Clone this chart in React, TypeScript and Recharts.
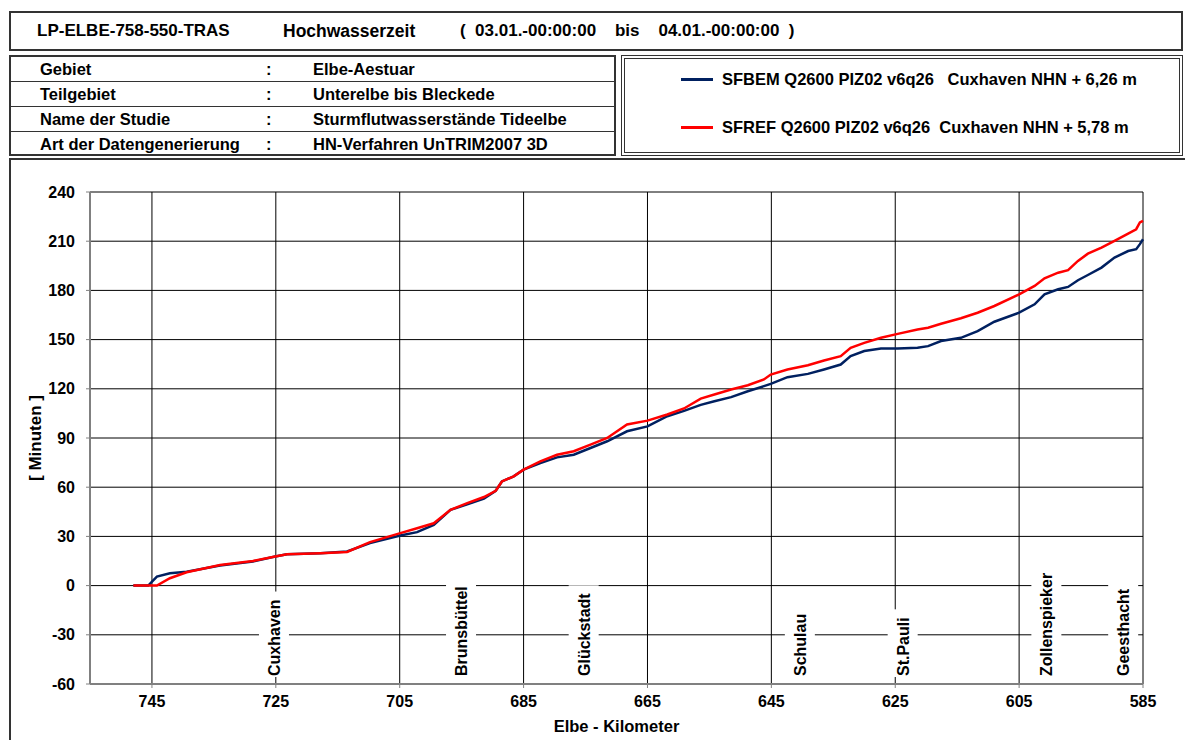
import React from 'react'
import { LineChart, Line, XAxis, YAxis, CartesianGrid, ReferenceDot } from 'recharts'

const FONT = '"Liberation Sans", Arial, Helvetica, sans-serif'
const BLUE = '#002060'
const RED = '#ff0000'
const AXIS_GRAY = '#808080'

// Elbe-Kilometer of each sample along the river
const kilometer = [
  748, 745.6, 744.2, 742.1, 739.4, 734, 728.7, 725.1, 723.2, 717.8, 713.5, 709.8, 704.9, 702.2, 699.5, 696.8,
  694.1, 691.4, 689.5, 688.5, 686.6, 685, 682.3, 679.6, 676.9, 674.2, 671.5, 668.3, 665, 661.8, 659.1, 656.4,
  654.2, 651.5, 648.8, 646.2, 645.1, 642.4, 639.1, 636.5, 633.8, 632.2, 630, 627.3, 624.6, 621.4, 619.7, 617.6,
  614.4, 611.7, 609, 605, 602.5, 600.9, 598.7, 597.1, 595.5, 593.9, 591.7, 589.6, 587.4, 586.1, 585.5, 585,
]

// SFBEM Q2600 PIZ02 v6q26 – high water time in minutes
const minutenBem = [
  0, 0, 5.5, 7.5, 8.5, 12.2, 14.7, 17.7, 19.1, 19.7, 20.8, 25.9, 30.5, 32.6, 37, 46.2,
  49.5, 53, 57.8, 63.5, 66.6, 70.7, 74.7, 78.2, 79.8, 83.9, 88, 94.1, 97.1, 103.3, 106.5, 110.2,
  112.4, 114.9, 118.5, 121.6, 123, 127.1, 129.1, 131.8, 134.8, 139.9, 143, 144.6, 144.6, 145, 146, 149.1,
  151.1, 155.2, 160.9, 166.4, 171.5, 177.6, 180.7, 182.1, 186.2, 189.4, 193.9, 200, 204, 205.1, 208.2, 211.2,
]

// SFREF Q2600 PIZ02 v6q26 – high water time in minutes
const minutenRef = [
  0, 0, 0, 4.5, 8.1, 12.5, 15, 17.7, 19.1, 19.7, 20.5, 26.5, 32, 35, 38, 46.2,
  50.3, 54, 57.8, 63.5, 66.6, 70.7, 75.8, 79.8, 81.9, 86, 90, 98.2, 100.6, 104.3, 108, 114,
  116.5, 119.6, 122.2, 125.7, 128.7, 131.8, 134.4, 137.3, 139.9, 145, 148, 151.1, 153.5, 156.2, 157.2, 159.7,
  163, 166.4, 170.5, 177.6, 182.7, 187.4, 190.8, 192.3, 198, 202.4, 206.1, 210.2, 214.6, 217.3, 221.4, 222.4,
]

const xTicks = [745, 725, 705, 685, 665, 645, 625, 605, 585]
const xMinorTicks = [
  750, 745, 740, 735, 730, 725, 720, 715, 710, 705, 700, 695, 690, 685, 680, 675, 670, 665, 660, 655, 650,
  645, 640, 635, 630, 625, 620, 615, 610, 605, 600, 595, 590, 585,
]
const yTicks = [-60, -30, 0, 30, 60, 90, 120, 150, 180, 210, 240]
const yMinorTicks = [
  -60, -50, -40, -30, -20, -10, 0, 10, 20, 30, 40, 50, 60, 70, 80, 90, 100, 110, 120, 130, 140, 150, 160, 170,
  180, 190, 200, 210, 220, 230, 240,
]

const orte = ['Cuxhaven', 'Brunsbüttel', 'Glückstadt', 'Schulau', 'St.Pauli', 'Zollenspieker', 'Geesthacht']
const orteKm = [725.3, 695.1, 675.3, 640.4, 623.8, 600.6, 588.2]

const infoLabels = ['Gebiet', 'Teilgebiet', 'Name der Studie', 'Art der Datengenerierung']
const infoValues = ['Elbe-Aestuar', 'Unterelbe bis Bleckede', 'Sturmflutwasserstände Tideelbe', 'HN-Verfahren UnTRIM2007 3D']

const legendNames = [
  'SFBEM Q2600 PIZ02 v6q26   Cuxhaven NHN + 6,26 m',
  'SFREF Q2600 PIZ02 v6q26  Cuxhaven NHN + 5,78 m',
]

const data = kilometer.map((km, i) => ({ km, bem: minutenBem[i], ref: minutenRef[i] }))

let measureCtx: CanvasRenderingContext2D | null = null
function textWidth(s: string, size: number) {
  if (!measureCtx) measureCtx = document.createElement('canvas').getContext('2d')
  if (!measureCtx) return s.length * size * 0.6
  measureCtx.font = `bold ${size}px ${FONT}`
  return measureCtx.measureText(s).width
}

// vertical place name on a white box, standing on the x axis
function OrtLabel({ cx, cy, name }: { cx: number; cy: number; name: string }) {
  const len = textWidth(name, 16)
  const bottom = cy - 8
  return (
    <g>
      <rect x={cx - 15} y={bottom - len - 8} width={30} height={len + 9} fill="#fff" />
      <text
        transform={`translate(${cx + 6},${bottom}) rotate(-90)`}
        fontSize={16}
        fontWeight="bold"
        fontFamily={FONT}
        fill="#000"
      >
        {name}
      </text>
    </g>
  )
}

function Txt({ left, cy, children, size = 16 }: { left: number; cy: number; children: React.ReactNode; size?: number }) {
  return (
    <div
      style={{
        position: 'absolute',
        left,
        top: cy - 10,
        height: 20,
        lineHeight: '20px',
        fontSize: size,
        whiteSpace: 'pre',
      }}
    >
      {children}
    </div>
  )
}

const tickStyle = { fontSize: 16, fontWeight: 'bold', fill: '#000', fontFamily: FONT }

export default function App() {
  const rowTop = 56
  const rowH = 25
  return (
    <div
      style={{
        position: 'absolute',
        left: 0,
        top: 0,
        width: 1185,
        height: 740,
        background: '#fff',
        fontFamily: FONT,
        fontWeight: 'bold',
        color: '#000',
        overflow: 'hidden',
      }}
    >
      {/* title bar */}
      <div style={{ position: 'absolute', left: 9, top: 11, width: 1174, height: 40, boxSizing: 'border-box', border: '2px solid #333' }} />
      <Txt left={37} cy={31} size={17}>LP-ELBE-758-550-TRAS</Txt>
      <Txt left={283} cy={31} size={17.5}>Hochwasserzeit</Txt>
      <Txt left={460} cy={31} size={17}>{'(  03.01.-00:00:00    bis    04.01.-00:00:00  )'}</Txt>

      {/* study info table */}
      <div style={{ position: 'absolute', left: 9, top: 55, width: 607, height: 101, boxSizing: 'border-box', border: '2px solid #333' }} />
      {infoLabels.map((lbl, i) => (
        <React.Fragment key={lbl}>
          {i > 0 && (
            <div style={{ position: 'absolute', left: 9, top: rowTop + i * rowH, width: 607, height: 0, borderTop: '1px solid #333' }} />
          )}
          <Txt left={40} cy={rowTop + i * rowH + 12.5} size={16.5}>{lbl}</Txt>
          <Txt left={266} cy={rowTop + i * rowH + 12.5} size={16.5}>:</Txt>
          <Txt left={313} cy={rowTop + i * rowH + 12.5} size={16.5}>{infoValues[i]}</Txt>
        </React.Fragment>
      ))}

      {/* legend */}
      <div style={{ position: 'absolute', left: 621, top: 55, width: 562, height: 101, boxSizing: 'border-box', border: '4px double #333' }} />
      {legendNames.map((name, i) => (
        <React.Fragment key={name}>
          <div style={{ position: 'absolute', left: 681, top: (i === 0 ? 79 : 127) - 1.5, width: 32, height: 3, background: i === 0 ? BLUE : RED }} />
          <Txt left={722} cy={i === 0 ? 79 : 127} size={16.5}>{name}</Txt>
        </React.Fragment>
      ))}

      {/* chart frame */}
      <div style={{ position: 'absolute', left: 9, top: 158, width: 1180, height: 590, boxSizing: 'border-box', borderLeft: '2px solid #333', borderTop: '2px solid #333' }} />

      <div style={{ position: 'absolute', left: 9, top: 158 }}>
        <LineChart width={1176} height={582} data={data} margin={{ top: 34, right: 42, bottom: 0, left: 0 }}>
          <CartesianGrid stroke="#000" strokeWidth={1} />
          <XAxis
            xAxisId="minor"
            type="number"
            dataKey="km"
            domain={[585, 755]}
            reversed
            ticks={xMinorTicks}
            interval={0}
            mirror
            height={0}
            tick={false}
            tickSize={5}
            axisLine={false}
            tickLine={{ stroke: AXIS_GRAY, strokeWidth: 1 }}
          />
          <YAxis
            yAxisId="minor"
            type="number"
            domain={[-60, 240]}
            ticks={yMinorTicks}
            interval={0}
            mirror
            width={0}
            tick={false}
            tickSize={4}
            axisLine={false}
            tickLine={{ stroke: AXIS_GRAY, strokeWidth: 1 }}
          />
          <XAxis
            type="number"
            dataKey="km"
            domain={[585, 755]}
            reversed
            ticks={xTicks}
            interval={0}
            height={56}
            tickSize={4}
            tickMargin={8}
            axisLine={{ stroke: AXIS_GRAY, strokeWidth: 2 }}
            tickLine={{ stroke: AXIS_GRAY, strokeWidth: 1 }}
            tick={tickStyle}
            label={{
              value: 'Elbe - Kilometer',
              position: 'insideBottom',
              offset: 8,
              style: { fontSize: 16.5, fontWeight: 'bold', fill: '#000', fontFamily: FONT },
            }}
          />
          <YAxis
            type="number"
            domain={[-60, 240]}
            ticks={yTicks}
            interval={0}
            width={81}
            tickSize={4}
            tickMargin={11}
            axisLine={{ stroke: AXIS_GRAY, strokeWidth: 2 }}
            tickLine={{ stroke: AXIS_GRAY, strokeWidth: 1 }}
            tick={tickStyle}
            label={{
              value: '[ Minuten ]',
              angle: -90,
              position: 'insideLeft',
              offset: 26,
              style: { textAnchor: 'middle', fontSize: 17, fontWeight: 'bold', fill: '#000', fontFamily: FONT },
            }}
          />
          {orte.map((name, i) => (
            <ReferenceDot
              key={name}
              x={orteKm[i]}
              y={-60}
              r={0}
              ifOverflow="visible"
              shape={(p: any) => <OrtLabel cx={p.cx} cy={p.cy} name={name} />}
            />
          ))}
          <Line type="linear" dataKey="bem" stroke={BLUE} strokeWidth={2.5} dot={false} isAnimationActive={false} />
          <Line type="linear" dataKey="ref" stroke={RED} strokeWidth={2.5} dot={false} isAnimationActive={false} />
        </LineChart>
      </div>
    </div>
  )
}
